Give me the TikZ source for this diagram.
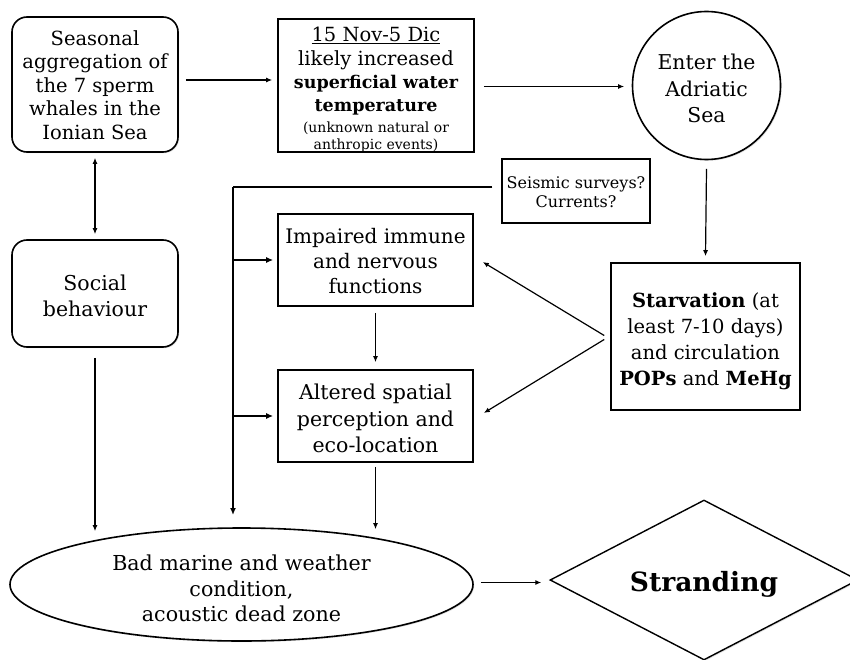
\documentclass[tikz,border=0pt]{standalone}
\usepackage{fontspec}
\setmainfont{DejaVu Serif}
\usetikzlibrary{shapes.geometric,calc,arrows.meta,shadows}
\begin{document}
\begin{tikzpicture}[x=1pt,y=-1pt,
 shade/.style={drop shadow={shadow xshift=1.2pt, shadow yshift=-1.2pt, opacity=0.25}},
 box/.style={draw, line width=1.6pt, inner sep=0pt, fill=white, shade},
 rbox/.style={box, rounded corners=15pt},
 txt/.style={inner sep=0pt, align=center},
 arr/.style={line width=1.2pt, -{Latex[length=6pt,width=5pt]}},
 darr/.style={line width=1.2pt, {Latex[length=6pt,width=5pt]}-{Latex[length=6pt,width=5pt]}},
 bus/.style={line width=2.2pt},
 busarr/.style={line width=2.2pt, -{Latex[length=7pt,width=6pt]}},
]
\useasboundingbox[fill=white] (0,0) rectangle (850,660);

% shapes
\node[rbox, minimum width=166pt, minimum height=135pt] (seas) at (95,84.5) {};
\node[box, minimum width=196pt, minimum height=133pt] (nov) at (376,85.5) {};
\node[box, circle, minimum size=148pt] (enter) at (706.5,85.5) {};
\node[box, line width=1.4pt, minimum width=148pt, minimum height=64pt] (seis) at (576,191) {};
\node[rbox, minimum width=166pt, minimum height=107pt] (soc) at (95,293.5) {};
\node[box, minimum width=195pt, minimum height=92pt] (imp) at (375.5,260) {};
\node[box, minimum width=195pt, minimum height=92pt] (alt) at (375.5,416) {};
\node[box, minimum width=189pt, minimum height=147pt] (starv) at (705.5,336.5) {};
\node[box, ellipse, minimum width=463pt, minimum height=113pt] (ell) at (241.5,584.5) {};
\node[box, diamond, line width=1.4pt, minimum width=308pt, minimum height=160pt] (strand) at (704,580) {};

% texts
\node[txt, font=\fontsize{19.5}{23.5}\selectfont] (seas-t) at ($(seas)+(0,0.5)$)
  {Seasonal\\aggregation of\\the 7 sperm\\whales in the\\Ionian Sea};
\node[txt, font=\fontsize{19.5}{23.5}\selectfont] (nov-t) at ($(nov)+(0,4)$)
  {\underline{15 Nov-5 Dic}\\[1pt]likely increased\\[-1pt]{\bfseries\fontsize{17.5}{23.5}\selectfont superficial water}\\{\bfseries\fontsize{17.5}{23.5}\selectfont temperature}\\[-3pt]
   {\fontsize{14}{17}\selectfont (unknown natural or}\\[-6pt]{\fontsize{14}{17}\selectfont anthropic events)}};
\node[txt, font=\fontsize{20.4}{26.5}\selectfont] (enter-t) at ($(enter)+(0,3)$) {Enter the\\Adriatic\\Sea};
\node[txt, font=\fontsize{16}{19}\selectfont] (seis-t) at ($(seis)+(0,1)$) {Seismic surveys?\\Currents?};
\node[txt, font=\fontsize{20.5}{26}\selectfont] (soc-t) at ($(soc)+(0,2)$) {Social\\behaviour};
\node[txt, font=\fontsize{20}{25}\selectfont] (imp-t) at ($(imp)+(0,1.5)$) {Impaired immune\\and nervous\\functions};
\node[txt, font=\fontsize{20.5}{26.5}\selectfont] (alt-t) at ($(alt)+(0,2.5)$) {Altered spatial\\perception and\\eco-location};
\node[txt, font=\fontsize{19.5}{26}\selectfont] (starv-t) at ($(starv)+(0,4.5)$)
  {\textbf{Starvation} (at\\least 7-10 days)\\and circulation\\\textbf{POPs} and \textbf{MeHg}};
\node[txt, font=\fontsize{20.6}{25.5}\selectfont] (ell-t) at ($(ell)+(0,4)$)
  {Bad marine and weather\\condition,\\acoustic dead zone};
\node[txt, font=\fontsize{26.5}{30}\selectfont\bfseries] (strand-t) at ($(strand)+(0,4)$) {Stranding};

% connectors
\draw[arr] ($(seas.east)+(7,-4.5)$) -- ($(nov.west)+(-5,-5.5)$);
\draw[arr] ($(nov.east)+(9,1)$) -- ($(enter.west)+(-7.5,1)$);
\draw[arr] ($(enter.south)+(0,8.5)$) -- ($(starv.north)+(0,-6)$);
\draw[darr] ($(seas.south)+(0,5)$) -- ($(soc.north)+(0,-5)$);
\draw[arr] ($(soc.south)+(0,10)$) -- ($(soc.south |- ell.north)+(0,4)$);

\coordinate (jtop) at (233,187);
\coordinate (jbot) at (233,515);
\draw[bus] ($(seis.west)+(-9,-4)$) -- (jtop);
\draw[busarr] (jtop) -- (jbot);
\draw[busarr] (jtop |- imp.west) -- ($(imp.west)+(-4,0)$);
\draw[busarr] (jtop |- alt.west) -- ($(alt.west)+(-4,0)$);

\draw[arr] ($(imp.south)+(0,6)$) -- ($(alt.north)+(0,-7)$);
\draw[arr] ($(alt.south)+(0,4)$) -- ($(alt.south |- ell.north)+(0,2)$);
\draw[arr] ($(starv.west)+(-6,-1)$) -- ($(imp.east)+(9,2)$);
\draw[arr] ($(starv.west)+(-6,3)$) -- ($(alt.east)+(10,-3)$);
\draw[arr] ($(ell.east)+(7,-2)$) -- ($(strand.west)+(-8,2.5)$);
\end{tikzpicture}
\end{document}
